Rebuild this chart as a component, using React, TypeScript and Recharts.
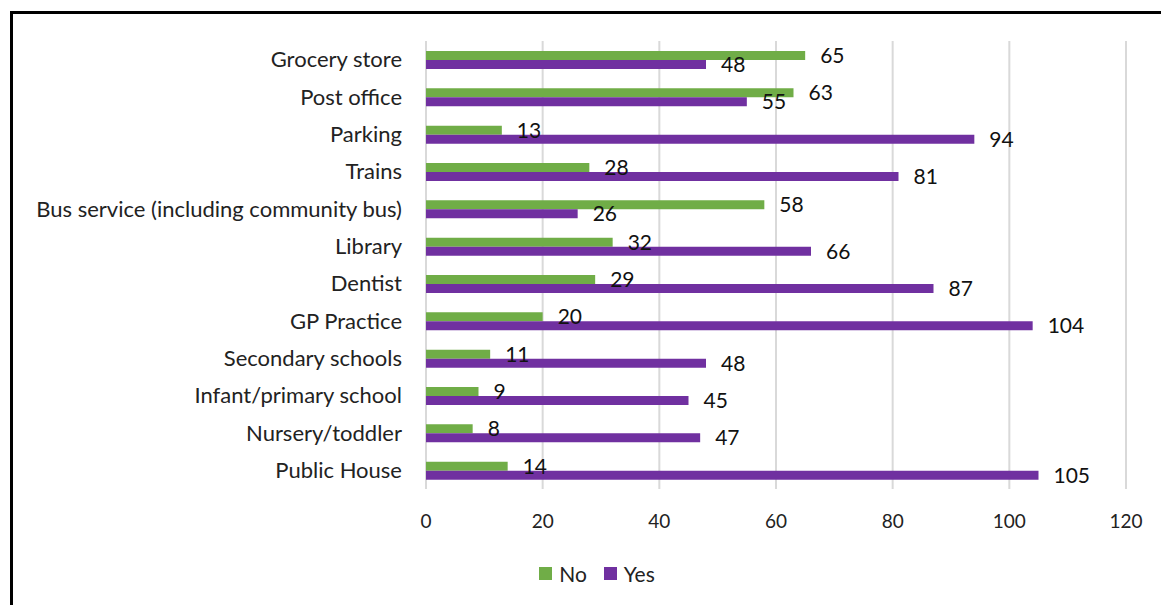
import React from 'react';
import { BarChart, Bar, XAxis, YAxis, CartesianGrid, Legend, LabelList } from 'recharts';

const categories = [
  'Grocery store',
  'Post office',
  'Parking',
  'Trains',
  'Bus service (including community bus)',
  'Library',
  'Dentist',
  'GP Practice',
  'Secondary schools',
  'Infant/primary school',
  'Nursery/toddler',
  'Public House',
];
const noValues = [65, 63, 13, 28, 58, 32, 29, 20, 11, 9, 8, 14];
const yesValues = [48, 55, 94, 81, 26, 66, 87, 104, 48, 45, 47, 105];
const xTicks = [0, 20, 40, 60, 80, 100, 120];

const data = categories.map((c, i) => ({ name: c, No: noValues[i], Yes: yesValues[i] }));

const FONT = 'Lato, "Open Sans", sans-serif';

const renderLegend = (props: any) => {
  const { payload } = props;
  return (
    <div style={{ display: 'flex', justifyContent: 'center', alignItems: 'center', height: 30, fontFamily: FONT, fontSize: 21, color: '#222' }}>
      {(payload || []).map((entry: any, i: number) => (
        <div key={i} style={{ display: 'flex', alignItems: 'center', marginLeft: i === 0 ? 0 : 17 }}>
          <div style={{ width: 13, height: 13, background: entry.color, marginRight: 7 }} />
          <span>{entry.value}</span>
        </div>
      ))}
    </div>
  );
};

export default function App() {
  return (
    <div style={{ position: 'absolute', left: 0, top: 0, width: 1161, height: 605, background: '#fff' }}>
      <div
        style={{
          position: 'absolute',
          left: 10,
          top: 11,
          width: 1161,
          height: 605,
          borderLeft: '3px solid #000',
          borderTop: '3px solid #000',
          boxSizing: 'border-box',
        }}
      />
      <div style={{ position: 'absolute', left: 0, top: 0 }}>
        <BarChart
          width={1161}
          height={605}
          data={data}
          layout="vertical"
          margin={{ top: 41, right: 35, bottom: 56, left: 0 }}
          barSize={9}
          barGap={0}
          style={{ fontFamily: FONT }}
        >
          <CartesianGrid horizontal={false} stroke="#d9d9d9" strokeWidth={2} />
          <XAxis
            type="number"
            domain={[0, 120]}
            ticks={xTicks}
            axisLine={false}
            tickLine={false}
            tickSize={0}
            tickMargin={26}
            tick={{ fill: '#222', fontSize: 19, fontFamily: FONT }}
            interval={0}
          />
          <YAxis
            type="category"
            dataKey="name"
            width={426}
            axisLine={false}
            tickLine={false}
            tickSize={0}
            tickMargin={24}
            tick={{ fill: '#222', fontSize: 22, fontFamily: FONT }}
            interval={0}
          />
          <Legend
            verticalAlign="bottom"
            align="center"
            content={renderLegend}
            wrapperStyle={{ bottom: 17, left: 0, width: 1194 }}
          />
          <Bar dataKey="No" fill="#70AD47" isAnimationActive={false}>
            <LabelList dataKey="No" position="right" offset={15} fill="#111" fontSize={21} fontFamily={FONT} />
          </Bar>
          <Bar dataKey="Yes" fill="#7030A0" isAnimationActive={false}>
            <LabelList dataKey="Yes" position="right" offset={15} fill="#111" fontSize={21} fontFamily={FONT} />
          </Bar>
        </BarChart>
      </div>
    </div>
  );
}
